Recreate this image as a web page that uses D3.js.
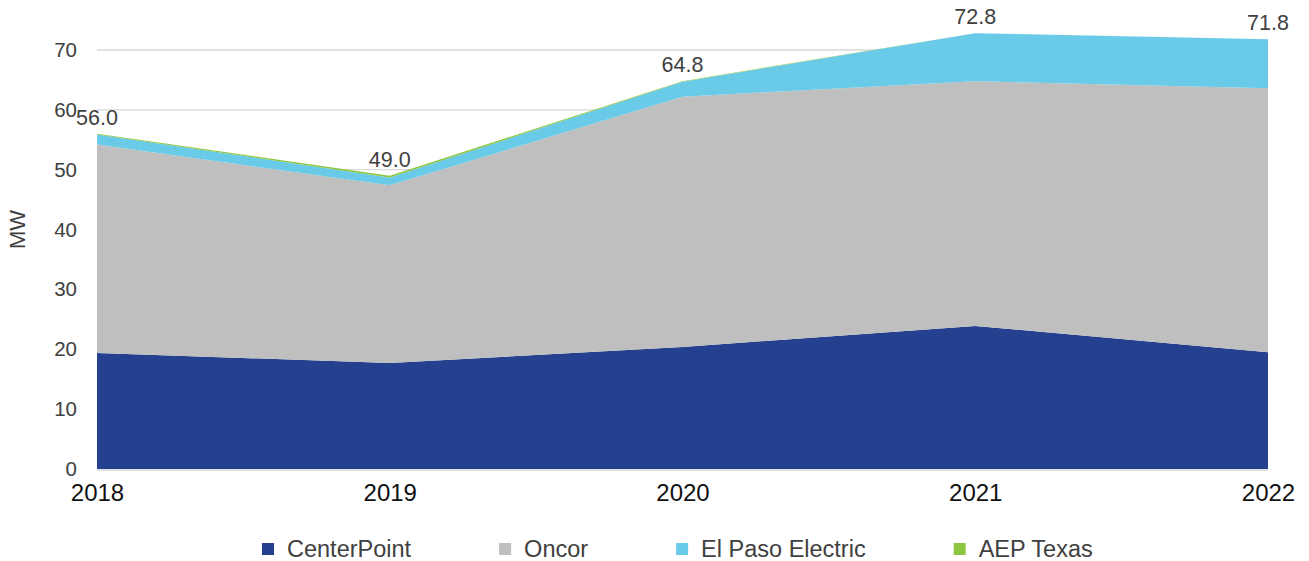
<!DOCTYPE html>
<html>
<head>
<meta charset="utf-8">
<script src="https://cdn.jsdelivr.net/npm/d3@7"></script>
<style>
  body { margin: 0; background: #fff; }
  text { font-family: "Liberation Sans", Arial, sans-serif; }
</style>
</head>
<body>
<div id="my_dataviz"></div>
<script>
// chart data
const years = ["2018", "2019", "2020", "2021", "2022"];
const centerPoint = [19.4, 17.7, 20.4, 23.9, 19.5];
const oncor = [34.8, 29.7, 41.8, 40.9, 44.1];
const elPaso = [1.7, 1.3, 2.5, 8.0, 8.2];
const aepTexas = [0.1, 0.3, 0.1, 0.0, 0.0];
const totals = [56.0, 49.0, 64.8, 72.8, 71.8];
const yTicks = [0, 10, 20, 30, 40, 50, 60, 70];
const seriesNames = ["CenterPoint", "Oncor", "El Paso Electric", "AEP Texas"];

const colors = d3.scaleOrdinal()
  .domain(seriesNames)
  .range(["#24408e", "#bfbfbf", "#69cbe8", "#8dc63f"]);

const W = 1309, H = 561;
const margin = {top: 50, right: 41, bottom: 92, left: 97},
    width = W - margin.left - margin.right,
    height = H - margin.top - margin.bottom;

const svg = d3.select("#my_dataviz")
  .append("svg")
    .attr("width", W)
    .attr("height", H)
  .append("g")
    .attr("transform", `translate(${margin.left}, ${margin.top})`);

const rows = years.map((yr, i) => ({
  year: yr,
  "CenterPoint": centerPoint[i],
  "Oncor": oncor[i],
  "El Paso Electric": elPaso[i],
  "AEP Texas": aepTexas[i],
  total: totals[i]
}));

const x = d3.scalePoint()
  .domain(years)
  .range([0, width]);

const y = d3.scaleLinear()
  .domain([0, 70])
  .range([height, 0]);

// gridlines
svg.append("g")
  .selectAll("line")
  .data(yTicks.slice(1))
  .enter()
  .append("line")
    .attr("x1", 0)
    .attr("x2", width)
    .attr("y1", d => y(d))
    .attr("y2", d => y(d))
    .style("stroke", "#d9d9d9")
    .style("stroke-width", 1.3);

// stacked areas
const stacked = d3.stack().keys(seriesNames)(rows);
const area = d3.area()
  .x(d => x(d.data.year))
  .y0(d => y(d[0]))
  .y1(d => y(d[1]));

svg.append("g")
  .selectAll("path")
  .data(stacked)
  .enter()
  .append("path")
    .attr("d", area)
    .style("fill", d => colors(d.key));

// baseline
svg.append("line")
  .attr("x1", 0)
  .attr("x2", width)
  .attr("y1", y(0) + 1)
  .attr("y2", y(0) + 1)
  .style("stroke", "#d9d9d9")
  .style("stroke-width", 1.3);

// y axis
const yAxis = svg.append("g")
  .attr("transform", "translate(-20,0)")
  .call(d3.axisLeft(y).tickValues(yTicks).tickSize(0).tickFormat(d3.format("d")));
yAxis.select(".domain").remove();
yAxis.selectAll("text")
  .style("font-size", "20.5px")
  .style("fill", "#404040")
  .attr("x", 0);

// x axis
const xAxis = svg.append("g")
  .attr("transform", `translate(0, ${height})`)
  .call(d3.axisBottom(x).tickSize(0));
xAxis.select(".domain").remove();
xAxis.selectAll("text")
  .style("font-size", "24px")
  .style("fill", "#111")
  .attr("dy", "1.2em");

// y title
svg.append("text")
  .attr("transform", `translate(${-72}, ${y(40)}) rotate(-90)`)
  .attr("text-anchor", "middle")
  .style("font-size", "22px")
  .style("fill", "#404040")
  .text("MW");

// total labels
svg.append("g")
  .selectAll("text")
  .data(rows)
  .enter()
  .append("text")
    .attr("x", d => x(d.year))
    .attr("y", d => y(d.total) - 9)
    .attr("text-anchor", "middle")
    .style("font-size", "21.5px")
    .style("fill", "#404040")
    .text(d => d3.format(".1f")(d.total));

// legend
const legend = svg.append("g")
  .attr("transform", `translate(${262 - margin.left}, ${549 - margin.top})`);
let lx = 0;
seriesNames.forEach(name => {
  const g = legend.append("g").attr("transform", `translate(${lx},0)`);
  g.append("rect")
    .attr("x", 0).attr("y", -6)
    .attr("width", 12).attr("height", 12)
    .style("fill", colors(name));
  const t = g.append("text")
    .attr("x", 25)
    .attr("dy", "0.36em")
    .style("font-size", "23.5px")
    .style("fill", "#404040")
    .text(name);
  lx += 25 + t.node().getComputedTextLength() + 88;
});
</script>
</body>
</html>
